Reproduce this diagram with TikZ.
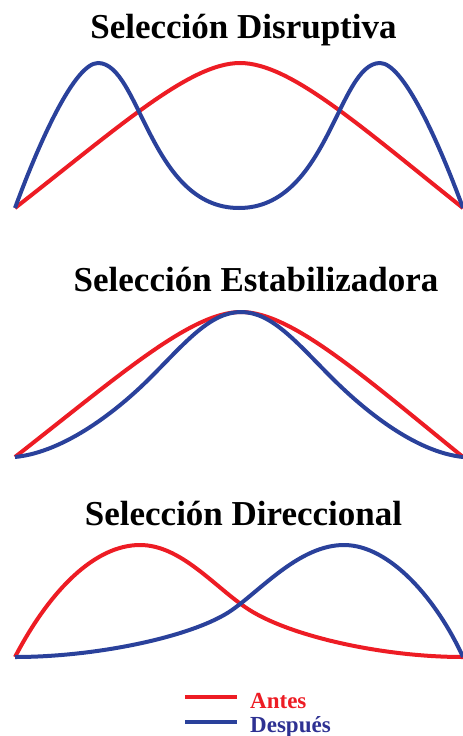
\documentclass[tikz,border=0pt]{standalone}
\usepackage{fontspec}
\setmainfont{Liberation Serif}
\usepackage{xcolor}
\usetikzlibrary{positioning}
\definecolor{antes}{HTML}{ED1C24}
\definecolor{despues}{HTML}{2A419B}
\definecolor{despuestxt}{HTML}{2E3192}

\begin{document}
\begin{tikzpicture}[x=1pt,y=-1pt,
    titulo/.style={font=\fontsize{35}{38}\selectfont\bfseries, anchor=base,
        inner sep=0pt},
    leyenda/.style={font=\fontsize{23}{25}\selectfont\bfseries, anchor=base west,
        inner sep=0pt},
    antescurva/.style={draw=antes, line width=4pt},
    despuescurva/.style={draw=despues, line width=4pt}]
    \useasboundingbox (0,0) rectangle (463,736);

    % titulos
    \node[titulo] (tDis) at (243.5,38) {Selección Disruptiva};
    \node[titulo] (tEst) at (256,291) {Selección Estabilizadora};
    \node[titulo] (tDir) at (243.5,525) {Selección Direccional};

    % disruptiva
    \draw[antescurva] (15,208) .. controls (120,126) and (190,63) .. (240,63)
        .. controls (290,63) and (360,126) .. (463,208);
    \draw[despuescurva] (15,208) .. controls (40,140) and (75,63) .. (98,63)
        .. controls (140,63) and (150,208) .. (239,208)
        .. controls (328,208) and (338,63) .. (380,63)
        .. controls (403,63) and (438,140) .. (463,208);

    % estabilizadora
    \draw[antescurva] (15,457) .. controls (120,375) and (191,312) .. (241,312)
        .. controls (291,312) and (362,375) .. (463,457);
    \draw[despuescurva] (15,457) .. controls (65,452) and (118,410) .. (150,378)
        .. controls (185,343) and (210,312) .. (241,312)
        .. controls (272,312) and (297,343) .. (332,378)
        .. controls (364,410) and (415,452) .. (463,457);

    % direccional
    \draw[antescurva] (15,657) .. controls (50,590) and (95,545) .. (140,545)
        .. controls (180,545) and (213,585) .. (245,607)
        .. controls (285,635) and (380,657) .. (463,657);
    \draw[despuescurva] (15,657) .. controls (98,657) and (195,636) .. (232,610)
        .. controls (262,589) and (300,545) .. (344,545)
        .. controls (390,545) and (437,600) .. (463,657);

    % leyenda
    \coordinate (a1) at (185,697);
    \coordinate (a2) at (237,697);
    \coordinate (d1) at (185,722);
    \coordinate (d2) at (237,722);
    \draw[antescurva] (a1) -- (a2);
    \draw[despuescurva] (d1) -- (d2);
    \node[leyenda, text=antes] (lAntes) at (250,708) {Antes};
    \node[leyenda, text=despuestxt] (lDespues) at (250,732) {Después};
\end{tikzpicture}
\end{document}
